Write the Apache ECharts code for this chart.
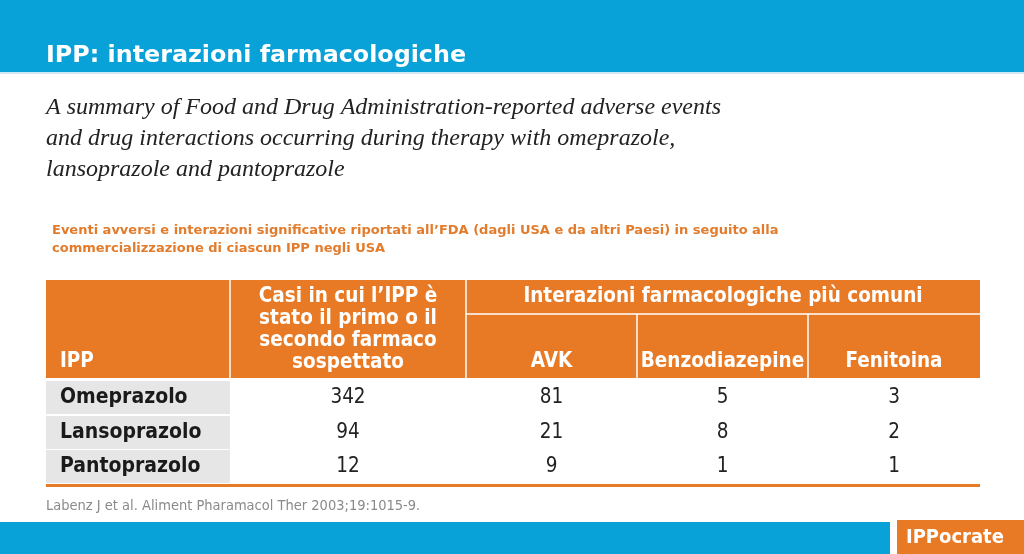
<!DOCTYPE html>
<html><head><meta charset="utf-8">
<script src="https://cdn.jsdelivr.net/npm/echarts@6/dist/echarts.min.js"></script>
<style>html,body{margin:0;padding:0;background:#fff}#c{width:1024px;height:554px}</style>
</head><body><div id="c"></div><script>
// ---- data ----
const title = 'IPP: interazioni farmacologiche';
const subtitleLines = [
  'A summary of Food and Drug Administration-reported adverse events',
  'and drug interactions occurring during therapy with omeprazole,',
  'lansoprazole and pantoprazole'
];
const noteLines = [
  'Eventi avversi e interazioni significative riportati all\u2019FDA (dagli USA e da altri Paesi) in seguito alla',
  'commercializzazione di ciascun IPP negli USA'
];
const headerIPP = 'IPP';
const headerCases = ['Casi in cui l\u2019IPP è', 'stato il primo o il', 'secondo farmaco', 'sospettato'];
const headerGroup = 'Interazioni farmacologiche più comuni';
const drugs = ['AVK', 'Benzodiazepine', 'Fenitoina'];
const ppis = ['Omeprazolo', 'Lansoprazolo', 'Pantoprazolo'];
const cases = [342, 94, 12];
const avk = [81, 21, 9];
const benzo = [5, 8, 1];
const fenitoina = [3, 2, 1];
const citation = 'Labenz J et al. Aliment Pharamacol Ther 2003;19:1015-9.';
const brand = 'IPPocrate';

// ---- layout / style ----
const BLUE = '#08a1d8', ORANGE = '#e97a25', GREY = '#e6e6e6';
const colEdges = [46, 230, 466, 637, 808, 980];
const headTop = 280, headMid = 314, headBot = 378;
const rowTops = [381, 416, 450], rowH = 33;
const headFont = 'bold 20.5px "DejaVu Sans Condensed", "DejaVu Sans", sans-serif';
const bodyBold = 'bold 21px "DejaVu Sans Condensed", "DejaVu Sans", sans-serif';
const bodyFont = '20.5px "DejaVu Sans Condensed", "DejaVu Sans", sans-serif';

const g = [];
function rect(x, y, w, h, fill) { g.push({type: 'rect', shape: {x, y, width: w, height: h}, style: {fill}, silent: true}); }
function text(t, x, y, font, fill, align) {
  g.push({type: 'text', x, y, style: {text: String(t), font, fill, align: align || 'left', verticalAlign: 'middle'}, silent: true});
}
function line(x1, y1, x2, y2) {
  g.push({type: 'line', shape: {x1, y1, x2, y2}, style: {stroke: '#fff', lineWidth: 1.5}, silent: true});
}
// top band
rect(0, 0, 1024, 72, BLUE);
rect(0, 72, 1024, 2, '#cfe9f4');
text(title, 46, 56, 'bold 23.8px "DejaVu Sans", Verdana, sans-serif', '#ffffff');
subtitleLines.forEach((l, i) => text(l, 46, 108 + i * 31, 'italic 24px "Liberation Serif", "Times New Roman", serif', '#222222'));
noteLines.forEach((l, i) => text(l, 52, 231 + i * 18, 'bold 13px "DejaVu Sans", sans-serif', '#e27c2c'));

// table header
rect(colEdges[0], headTop, colEdges[5] - colEdges[0], headBot - headTop, ORANGE);
line(colEdges[1], headTop, colEdges[1], headBot);
line(colEdges[2], headTop, colEdges[2], headBot);
line(colEdges[2], headMid, colEdges[5], headMid);
line(colEdges[3], headMid, colEdges[3], headBot);
line(colEdges[4], headMid, colEdges[4], headBot);
text(headerIPP, 60, 362, headFont, '#fff');
headerCases.forEach((l, i) => text(l, (colEdges[1] + colEdges[2]) / 2, 297 + i * 22, headFont, '#fff', 'center'));
text(headerGroup, (colEdges[2] + colEdges[5]) / 2, 297, headFont, '#fff', 'center');
drugs.forEach((d, i) => text(d, (colEdges[2 + i] + colEdges[3 + i]) / 2, 362, headFont, '#fff', 'center'));

// body
const cols = [cases, avk, benzo, fenitoina];
ppis.forEach((p, r) => {
  rect(colEdges[0], rowTops[r], colEdges[1] - colEdges[0], rowH, GREY);
  const cy = rowTops[r] + rowH / 2;
  text(p, 60, cy, bodyBold, '#1a1a1a');
  cols.forEach((c, k) => text(c[r], (colEdges[1 + k] + colEdges[2 + k]) / 2, cy, bodyFont, '#222', 'center'));
});
rect(colEdges[0], 484, colEdges[5] - colEdges[0], 3, ORANGE);
text(citation, 46, 506, '14.5px "DejaVu Sans Condensed", "DejaVu Sans", sans-serif', '#8a8a8a');

// bottom band
rect(0, 522, 890, 32, BLUE);
rect(897, 520, 127, 34, ORANGE);
text(brand, 906, 538, 'bold 20px "DejaVu Sans Condensed", "DejaVu Sans", sans-serif', '#fff');

const chart = echarts.init(document.getElementById('c'), null, {renderer: 'canvas'});
chart.setOption({animation: false, graphic: {elements: g}});
</script></body></html>
